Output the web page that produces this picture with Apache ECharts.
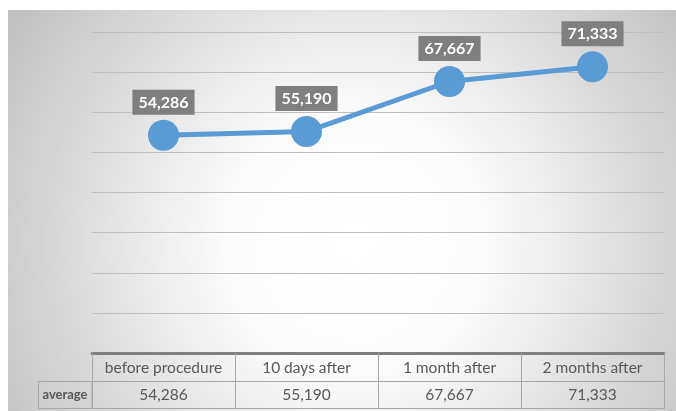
<!DOCTYPE html>
<html>
<head>
<meta charset="utf-8">
<script src="https://cdn.jsdelivr.net/npm/echarts@6/dist/echarts.min.js"></script>
<style>
  html, body { margin: 0; padding: 0; background: #fff; }
  #chart { width: 676px; height: 411px; }
</style>
</head>
<body>
<div id="chart"></div>
<script>
// data
var categories = ['before procedure', '10 days after', '1 month after', '2 months after'];
var averageValues = [54286, 55190, 67667, 71333];
var rowName = 'average';

function fmt(v) {
    return v.toLocaleString('en-US');
}

var myChart = echarts.init(document.getElementById('chart'));

var option = {
    animation: false,
    backgroundColor: '#ffffff',
    textStyle: { fontFamily: 'Lato' },
    graphic: [
        // chart area background (radial gray gradient like excel)
        {
            type: 'rect',
            z: -10,
            silent: true,
            shape: { x: 8, y: 10, width: 668, height: 401 },
            style: {
                fill: {
                    type: 'radial', x: 0.52, y: 0.58, r: 1,
                    colorStops: [
                        { offset: 0, color: '#ffffff' },
                        { offset: 0.32, color: '#fcfcfc' },
                        { offset: 1, color: '#c2c2c2' }
                    ]
                }
            }
        },
        // row header cell of the data table
        {
            type: 'rect',
            silent: true,
            shape: { x: 38.5, y: 381.5, width: 53.5, height: 27 },
            style: { fill: 'transparent', stroke: '#a6a6a6', lineWidth: 1 }
        },
        {
            type: 'text',
            silent: true,
            x: 65, y: 395,
            style: {
                text: rowName,
                fontFamily: 'Lato', fontWeight: 'bold', fontSize: 13,
                fill: '#595959', align: 'center', verticalAlign: 'middle'
            }
        }
    ],
    grid: { left: 92, right: 12, top: 32, bottom: 58 },
    xAxis: [
        {
            type: 'category',
            data: categories,
            position: 'bottom',
            axisLine: { lineStyle: { color: '#7f7f7f', width: 3 } },
            axisTick: { show: true, interval: 0, length: 56, lineStyle: { color: '#a6a6a6' } },
            axisLabel: { interval: 0, margin: 7, fontSize: 15.5, color: '#595959', fontFamily: 'Lato' }
        },
        {
            type: 'category',
            data: averageValues.map(fmt),
            position: 'bottom',
            offset: 28,
            axisLine: { show: true, lineStyle: { color: '#a6a6a6', width: 1 } },
            axisTick: { show: false },
            axisLabel: { interval: 0, margin: 6, fontSize: 15.5, color: '#595959', fontFamily: 'Lato' }
        },
        {
            type: 'category',
            data: categories,
            position: 'bottom',
            offset: 55,
            axisLine: { show: true, lineStyle: { color: '#a6a6a6', width: 1 } },
            axisTick: { show: false },
            axisLabel: { show: false }
        }
    ],
    yAxis: {
        type: 'value',
        min: 0,
        max: 80000,
        interval: 10000,
        axisLine: { show: false },
        axisTick: { show: false },
        axisLabel: { show: false },
        splitLine: { lineStyle: { color: '#bfbfbf', width: 1 } }
    },
    series: [{
        name: rowName,
        type: 'line',
        xAxisIndex: 0,
        data: averageValues,
        symbol: 'circle',
        symbolSize: 31,
        lineStyle: { color: '#5b9bd5', width: 5 },
        itemStyle: { color: '#5b9bd5' },
        label: {
            show: true,
            position: 'top',
            distance: 5,
            formatter: function (p) { return fmt(p.value); },
            backgroundColor: '#7f7f7f',
            color: '#ffffff',
            fontFamily: 'Lato',
            fontWeight: 'bold',
            fontSize: 16,
            padding: [5, 6, 4, 6]
        }
    }]
};

myChart.setOption(option);
</script>
</body>
</html>
